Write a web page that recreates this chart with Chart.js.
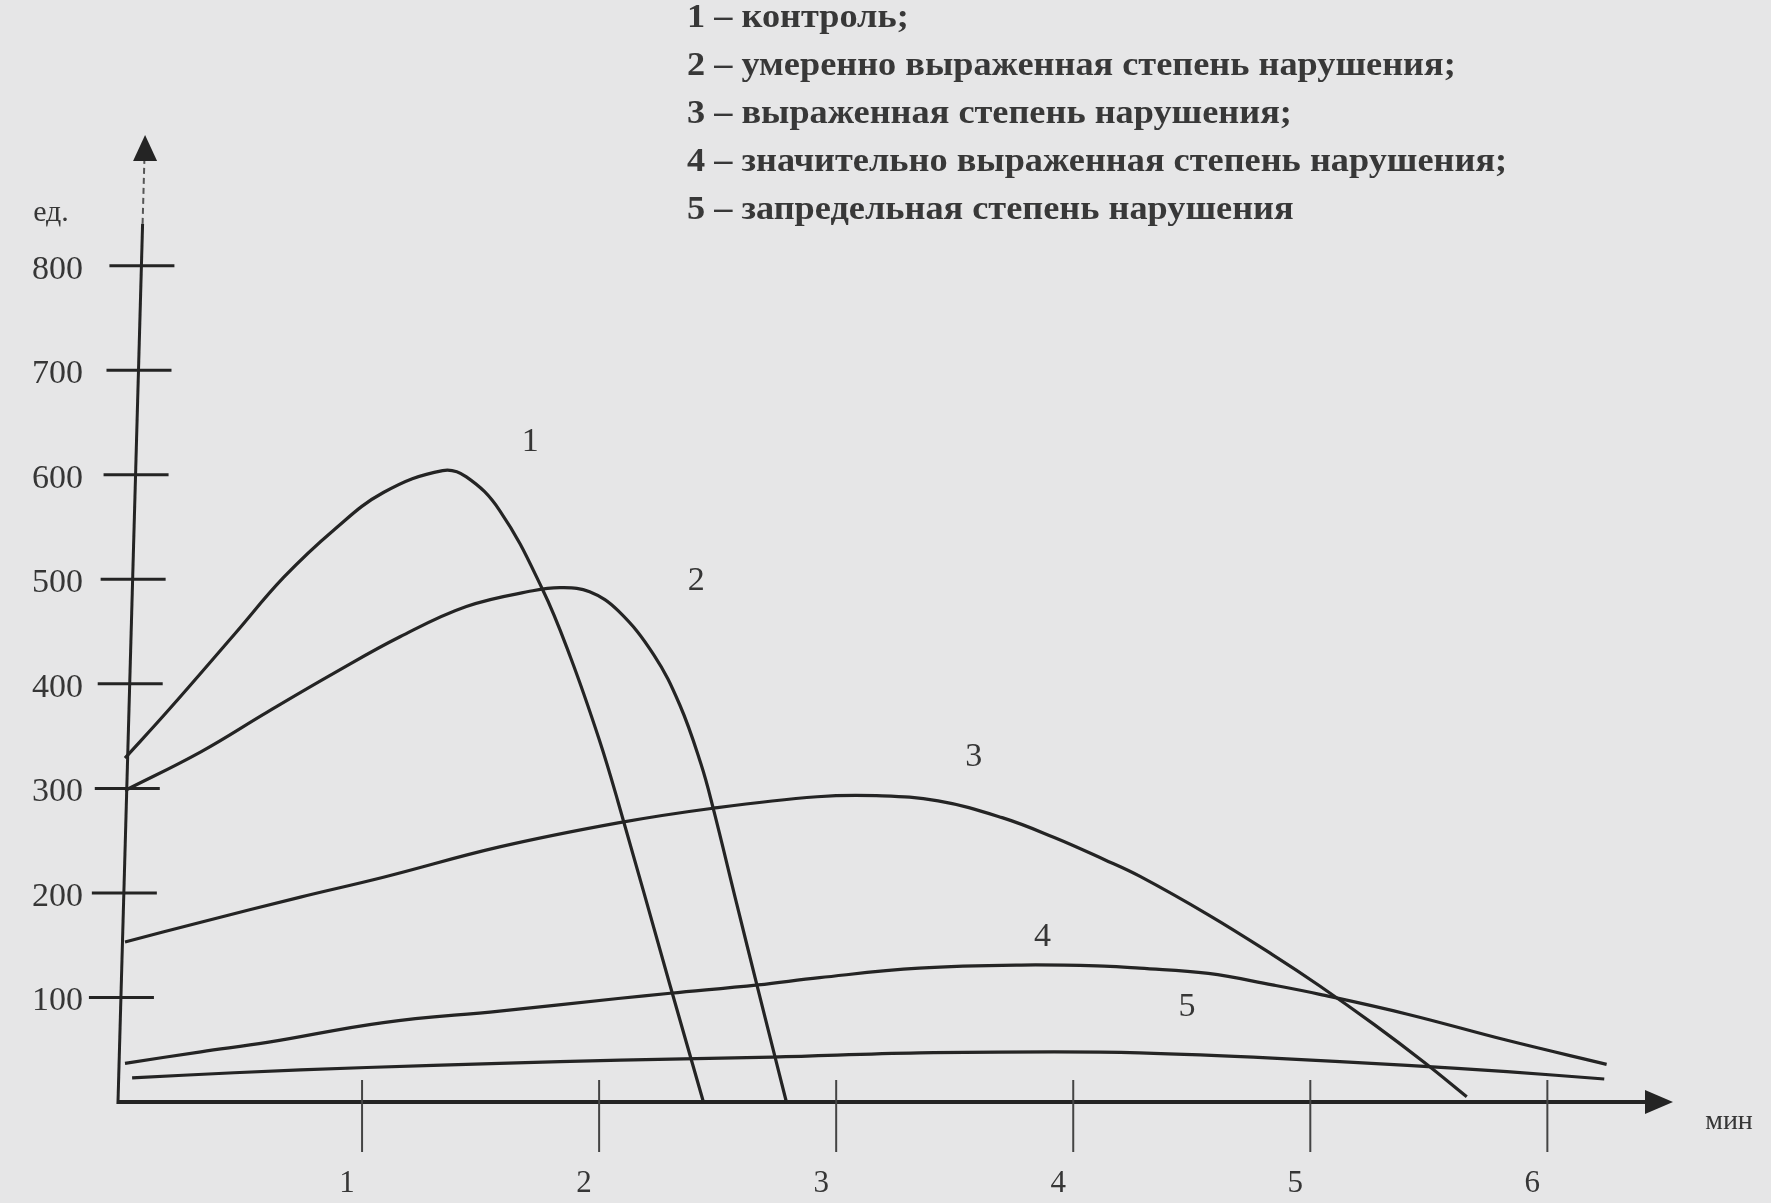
<!DOCTYPE html>
<html lang="ru">
<head>
<meta charset="utf-8">
<title>Динамика показателя</title>
<script src="https://cdn.jsdelivr.net/npm/chart.js@4.4.1/dist/chart.umd.min.js"></script>
<style>
  html, body { margin: 0; padding: 0; background: #e6e6e7; overflow: hidden; }
  #chart { display: block; }
</style>
</head>
<body>
<canvas id="chart" width="1771" height="1203"></canvas>
<script>
// axis ticks
const X_TICKS = [1, 2, 3, 4, 5, 6];
const Y_TICKS = [100, 200, 300, 400, 500, 600, 700, 800];
const Y_UNIT = "ед.";
const X_UNIT = "мин";

const LEGEND_LABELS = [
  "1 – контроль;",
  "2 – умеренно выраженная степень нарушения;",
  "3 – выраженная степень нарушения;",
  "4 – значительно выраженная степень нарушения;",
  "5 – запредельная степень нарушения"
];

// curves: [минуты, ед.]
const CURVE_1 = [[0, 329], [0.18, 374], [0.46, 447], [0.67, 502], [0.88, 547], [1.09, 583], [1.34, 604], [1.44, 598],
  [1.58, 566], [1.76, 491], [1.88, 425], [2.00, 347], [2.08, 287], [2.30, 111], [2.44, 0]];
const CURVE_2 = [[0, 298], [0.32, 335], [0.60, 373], [0.88, 410], [1.16, 445], [1.44, 474], [1.72, 489], [1.84, 492],
  [1.96, 488], [2.08, 470], [2.23, 428], [2.34, 380], [2.43, 323], [2.48, 282], [2.58, 190], [2.67, 108], [2.73, 54], [2.79, 0]];
const CURVE_3 = [[0, 153], [0.32, 172], [0.74, 196], [1.09, 215], [1.58, 244], [2.08, 267], [2.48, 281], [2.92, 292],
  [3.17, 293], [3.43, 288], [3.70, 272], [3.92, 253], [4.13, 232], [4.28, 216], [4.57, 179], [4.84, 141], [5.04, 111],
  [5.27, 74], [5.48, 38], [5.66, 5]];
const CURVE_4 = [[0, 37], [0.32, 48], [0.60, 57], [1.09, 76], [1.58, 87], [2.08, 99], [2.30, 104], [2.67, 112], [2.93, 119],
  [3.35, 128], [3.78, 131], [4.13, 130], [4.28, 128], [4.57, 123], [4.84, 112], [5.04, 103], [5.41, 84], [5.83, 59], [6.25, 36]];
const CURVE_5 = [[0.03, 23], [0.46, 28], [1.02, 33], [1.58, 37], [2.09, 40], [2.73, 43], [3.35, 47], [3.92, 48], [4.28, 47],
  [4.84, 42], [5.41, 35], [5.83, 29], [6.24, 22]];

// numbers written next to each curve, in data units
const CURVE_NUMBERS = ["1", "2", "3", "4", "5"];
const NUMBER_AT_X = [1.71, 2.41, 3.58, 3.87, 4.48];
const NUMBER_AT_Y = [631, 498, 330, 158, 91];

const INK = "#242424";
const TEXT = "#363636";
const SERIF = "'Liberation Serif', 'DejaVu Serif', serif";

function toPoints(curve) {
  return curve.map(([x, y]) => ({ x, y }));
}

const handDrawnAxes = {
  id: "handDrawnAxes",
  beforeDatasetsDraw(chart) {
    const { ctx, scales: { x, y }, chartArea } = chart;
    const x0 = x.getPixelForValue(0);
    const y0 = y.getPixelForValue(0);
    // the scanned axis leans slightly to the right
    const lean = 0.028;
    const axisX = py => x0 - 7 + (y0 - py) * lean;

    ctx.save();
    ctx.strokeStyle = INK;
    ctx.lineCap = "butt";

    // y axis: solid part, then faint dashes up to the arrow
    const solidTop = y.getPixelForValue(840);
    const arrowBase = chartArea.top + 26;
    ctx.lineWidth = 3;
    ctx.beginPath();
    ctx.moveTo(axisX(y0 + 2), y0 + 2);
    ctx.lineTo(axisX(solidTop), solidTop);
    ctx.stroke();
    ctx.setLineDash([6, 4]);
    ctx.lineWidth = 2;
    ctx.strokeStyle = "#555";
    ctx.beginPath();
    ctx.moveTo(axisX(solidTop), solidTop);
    ctx.lineTo(axisX(arrowBase), arrowBase);
    ctx.stroke();
    ctx.setLineDash([]);

    ctx.fillStyle = INK;
    const tipX = axisX(chartArea.top);
    ctx.beginPath();
    ctx.moveTo(tipX, chartArea.top);
    ctx.lineTo(tipX - 12, arrowBase);
    ctx.lineTo(tipX + 12, arrowBase);
    ctx.closePath();
    ctx.fill();

    // y ticks crossing the axis
    ctx.strokeStyle = INK;
    ctx.lineWidth = 3;
    ctx.font = `34px ${SERIF}`;
    ctx.textAlign = "right";
    ctx.textBaseline = "middle";
    Y_TICKS.forEach(v => {
      const py = y.getPixelForValue(v);
      const ax = axisX(py);
      ctx.beginPath();
      ctx.moveTo(ax - 32, py);
      ctx.lineTo(ax + 33, py);
      ctx.stroke();
      ctx.fillStyle = TEXT;
      ctx.fillText(String(v), x0 - 42, py + 4);
    });

    ctx.font = `30px ${SERIF}`;
    ctx.textAlign = "center";
    ctx.fillText(Y_UNIT, x0 - 74, chartArea.top + 78);

    // x axis with arrow
    const tip = chartArea.right;
    ctx.lineWidth = 4;
    ctx.beginPath();
    ctx.moveTo(axisX(y0), y0);
    ctx.lineTo(tip - 24, y0);
    ctx.stroke();
    ctx.fillStyle = INK;
    ctx.beginPath();
    ctx.moveTo(tip, y0);
    ctx.lineTo(tip - 28, y0 - 12);
    ctx.lineTo(tip - 28, y0 + 12);
    ctx.closePath();
    ctx.fill();

    // x ticks crossing the axis, numbers a little to the left
    ctx.lineWidth = 2;
    ctx.strokeStyle = "#444";
    ctx.font = `31px ${SERIF}`;
    X_TICKS.forEach(t => {
      const px = x.getPixelForValue(t);
      ctx.beginPath();
      ctx.moveTo(px, y0 - 22);
      ctx.lineTo(px, y0 + 50);
      ctx.stroke();
      ctx.fillStyle = TEXT;
      ctx.fillText(String(t), px - 15, y0 + 82);
    });

    ctx.font = `28px ${SERIF}`;
    ctx.fillText(X_UNIT, tip + 56, y0 + 20);
    ctx.restore();
  },
  afterDatasetsDraw(chart) {
    const { ctx, scales: { x, y } } = chart;
    ctx.save();
    ctx.fillStyle = TEXT;
    ctx.font = `34px ${SERIF}`;
    ctx.textAlign = "center";
    ctx.textBaseline = "middle";
    CURVE_NUMBERS.forEach((n, i) => {
      ctx.fillText(n, x.getPixelForValue(NUMBER_AT_X[i]), y.getPixelForValue(NUMBER_AT_Y[i]));
    });

    // key in the upper part of the figure; the scan prints it heavy and wide
    ctx.textAlign = "left";
    ctx.font = `bold 33px ${SERIF}`;
    ctx.fillStyle = "#383838";
    chart.data.datasets.forEach((ds, i) => {
      ctx.save();
      ctx.translate(687, 18 + i * 48);
      ctx.scale(1.10, 1);
      ctx.fillText(ds.label, 0, 0);
      ctx.restore();
    });
    ctx.restore();
  }
};

const curves = [CURVE_1, CURVE_2, CURVE_3, CURVE_4, CURVE_5];

new Chart(document.getElementById("chart"), {
  type: "line",
  data: {
    datasets: curves.map((curve, i) => ({
      label: LEGEND_LABELS[i],
      data: toPoints(curve),
      borderColor: INK,
      borderWidth: 3.2,
      pointRadius: 0,
      fill: false,
      tension: 0.4,
      clip: false
    }))
  },
  options: {
    responsive: false,
    animation: false,
    layout: { padding: { left: 125, right: 98, top: 135, bottom: 101 } },
    plugins: { legend: { display: false }, tooltip: { enabled: false } },
    scales: {
      x: { type: "linear", min: 0, max: 6.53, display: false },
      y: { type: "linear", min: 0, max: 925, display: false }
    }
  },
  plugins: [handDrawnAxes]
});
</script>
</body>
</html>
